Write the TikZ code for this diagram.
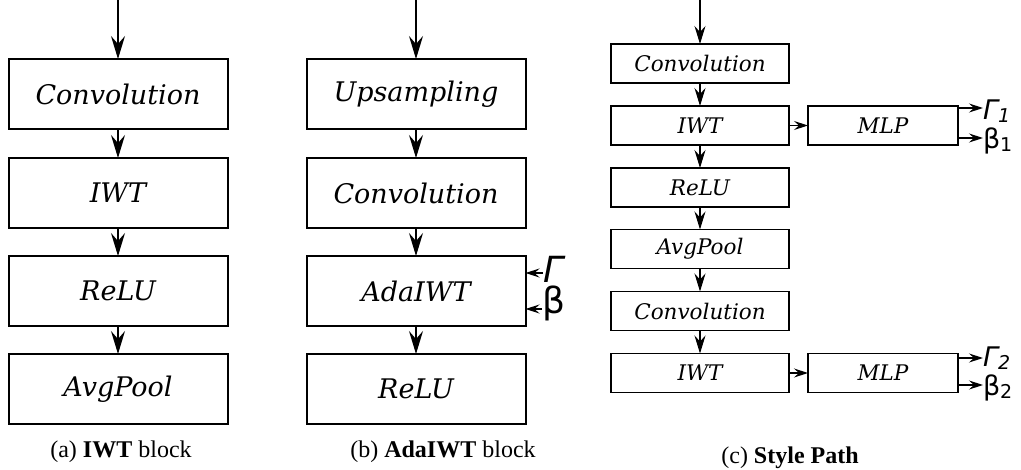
\documentclass[tikz,border=0pt]{standalone}
\usepackage{fontspec}
\setmainfont{Liberation Serif}
\newfontfamily\dvserif{DejaVu Serif}
\newfontfamily\dvsans{DejaVu Sans}
\usetikzlibrary{arrows.meta}
\begin{document}
\begin{tikzpicture}[x=1pt,y=-1pt,
  bigbox/.style={draw,line width=2pt,minimum width=219pt,minimum height=70pt,inner sep=0pt,outer sep=0pt,font=\dvserif\itshape\fontsize{27}{30}\selectfont},
  smallbox/.style={draw,line width=1.4pt,minimum width=178pt,minimum height=39pt,inner sep=0pt,outer sep=0pt,font=\dvserif\itshape\fontsize{21.5}{24}\selectfont},
  mlpbox/.style={smallbox,minimum width=150pt},
  bigarr/.style={line width=1.4pt,-{Stealth[length=23pt,width=14pt,inset=8pt]}},
  midarr/.style={line width=1.2pt,-{Stealth[length=18pt,width=11pt,inset=6pt]}},
  smallarr/.style={line width=1.2pt,-{Stealth[length=14pt,width=9pt,inset=5pt]}},
  sym/.style={inner sep=0pt,outer sep=0pt,anchor=west,text depth=0pt},
  captext/.style={font=\fontsize{24}{28}\selectfont}
]
\useasboundingbox (0,0) rectangle (1021,469);
% (a)
\coordinate (atop) at (118,0);
\node[bigbox] (a1) at (118,94) {Convolution};
\node[bigbox] (a2) at (118,193) {IWT};
\node[bigbox] (a3) at (118,291) {ReLU};
\node[bigbox] (a4) at (118,389) {AvgPool};
\draw[bigarr] (atop) -- (a1.north);
\draw[bigarr] (a1) -- (a2);
\draw[bigarr] (a2) -- (a3);
\draw[bigarr] (a3) -- (a4);
\node[captext] (capa) at (121,452) {(a) \textbf{IWT} block};
% (b)
\coordinate (btop) at (416,0);
\node[bigbox] (b1) at (416,94) {Upsampling};
\node[bigbox] (b2) at (416,193) {Convolution};
\node[bigbox] (b3) at (416,291) {AdaIWT};
\node[bigbox] (b4) at (416,389) {ReLU};
\draw[bigarr] (btop) -- (b1.north);
\draw[bigarr] (b1) -- (b2);
\draw[bigarr] (b2) -- (b3);
\draw[bigarr] (b3) -- (b4);
\node[sym,font=\dvsans\itshape\fontsize{36}{36}\selectfont,text height=24pt] (bg) at (543,270) {Γ};
\node[sym,font=\dvsans\fontsize{36}{36}\selectfont,text depth=8pt,text height=18pt] (bb) at (542,308) {β};
\draw[smallarr] (bg.west |- 0,273) -- (b3.east |- 0,273);
\draw[smallarr] (bb.west |- 0,309) -- (b3.east |- 0,309);
\node[captext] (capb) at (443,452) {(b) \textbf{AdaIWT} block};
% (c)
\coordinate (ctop) at (700,0);
\node[smallbox] (c1) at (700,63.5) {Convolution};
\node[smallbox] (c2) at (700,125.5) {IWT};
\node[smallbox] (c3) at (700,187.5) {ReLU};
\node[smallbox] (c4) at (700,249) {AvgPool};
\node[smallbox] (c5) at (700,311) {Convolution};
\node[smallbox] (c6) at (700,373) {IWT};
\node[mlpbox] (m1) at (883,125.5) {MLP};
\node[mlpbox] (m2) at (883,373) {MLP};
\draw[midarr] (ctop) -- (c1.north);
\draw[midarr] (c1) -- (c2);
\draw[midarr] (c2) -- (c3);
\draw[midarr] (c3) -- (c4);
\draw[midarr] (c4) -- (c5);
\draw[midarr] (c5) -- (c6);
\draw[smallarr] (c2) -- (m1);
\draw[smallarr] (c6) -- (m2);
\node[sym,font=\dvsans\fontsize{27}{27}\selectfont] (g1) at (983,110) {\itshape Γ\raisebox{-3pt}{\fontsize{19}{19}\selectfont 1}};
\node[sym,font=\dvsans\fontsize{27}{27}\selectfont] (b1o) at (983,138) {β\raisebox{-3pt}{\fontsize{19}{19}\selectfont 1}};
\node[sym,font=\dvsans\fontsize{27}{27}\selectfont] (g2) at (983,357) {\itshape Γ\raisebox{-3pt}{\fontsize{19}{19}\selectfont 2}};
\node[sym,font=\dvsans\fontsize{27}{27}\selectfont] (b2o) at (983,385) {β\raisebox{-3pt}{\fontsize{19}{19}\selectfont 2}};
\draw[smallarr] (m1.east |- 0,108) -- (g1.west |- 0,108);
\draw[smallarr] (m1.east |- 0,138) -- (b1o.west |- 0,138);
\draw[smallarr] (m2.east |- 0,358) -- (g2.west |- 0,358);
\draw[smallarr] (m2.east |- 0,385) -- (b2o.west |- 0,385);
\node[captext] (capc) at (790,458) {(c) \textbf{Style Path}};
\end{tikzpicture}
\end{document}
